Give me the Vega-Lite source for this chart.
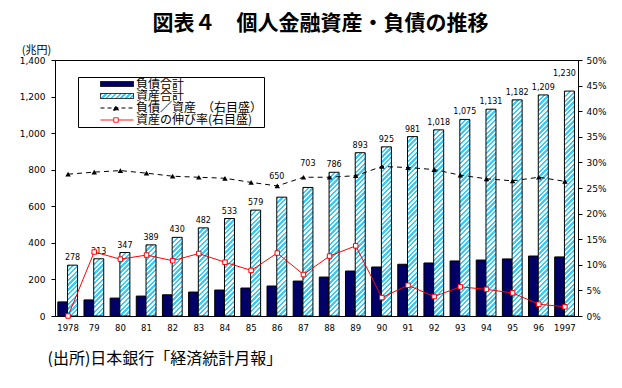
{
  "$schema": "https://vega.github.io/schema/vega-lite/v6.json",
  "width": 523,
  "height": 256,
  "autosize": {"type": "none"},
  "padding": {"left": 55, "top": 60, "right": 44, "bottom": 72},
  "background": "white",
  "config": {"view": {"stroke": "black", "strokeWidth": 1}},
  "title": {"text": "図表４　個人金融資産・負債の推移", "font": "Noto Sans CJK JP", "fontSize": 21, "fontWeight": "bold", "color": "black", "frame": "group", "anchor": "middle", "dx": 4, "dy": 25, "offset": 14, "baseline": "bottom"},
  "params": [
    {"name": "stripeStops", "value": [
      {"offset":0,"color":"#3cf"},
      {"offset":0.01,"color":"#3cf"},{"offset":0.01,"color":"#fff"},
      {"offset":0.02,"color":"#fff"},{"offset":0.02,"color":"#3cf"},
      {"offset":0.03,"color":"#3cf"},{"offset":0.03,"color":"#fff"},
      {"offset":0.04,"color":"#fff"},{"offset":0.04,"color":"#3cf"},
      {"offset":0.05,"color":"#3cf"},{"offset":0.05,"color":"#fff"},
      {"offset":0.06,"color":"#fff"},{"offset":0.06,"color":"#3cf"},
      {"offset":0.07,"color":"#3cf"},{"offset":0.07,"color":"#fff"},
      {"offset":0.08,"color":"#fff"},{"offset":0.08,"color":"#3cf"},
      {"offset":0.09,"color":"#3cf"},{"offset":0.09,"color":"#fff"},
      {"offset":0.10,"color":"#fff"},{"offset":0.10,"color":"#3cf"},
      {"offset":0.11,"color":"#3cf"},{"offset":0.11,"color":"#fff"},
      {"offset":0.12,"color":"#fff"},{"offset":0.12,"color":"#3cf"},
      {"offset":0.13,"color":"#3cf"},{"offset":0.13,"color":"#fff"},
      {"offset":0.14,"color":"#fff"},{"offset":0.14,"color":"#3cf"},
      {"offset":0.15,"color":"#3cf"},{"offset":0.15,"color":"#fff"},
      {"offset":0.16,"color":"#fff"},{"offset":0.16,"color":"#3cf"},
      {"offset":0.17,"color":"#3cf"},{"offset":0.17,"color":"#fff"},
      {"offset":0.18,"color":"#fff"},{"offset":0.18,"color":"#3cf"},
      {"offset":0.19,"color":"#3cf"},{"offset":0.19,"color":"#fff"},
      {"offset":0.20,"color":"#fff"},{"offset":0.20,"color":"#3cf"},
      {"offset":0.21,"color":"#3cf"},{"offset":0.21,"color":"#fff"},
      {"offset":0.22,"color":"#fff"},{"offset":0.22,"color":"#3cf"},
      {"offset":0.23,"color":"#3cf"},{"offset":0.23,"color":"#fff"},
      {"offset":0.24,"color":"#fff"},{"offset":0.24,"color":"#3cf"},
      {"offset":0.25,"color":"#3cf"},{"offset":0.25,"color":"#fff"},
      {"offset":0.26,"color":"#fff"},{"offset":0.26,"color":"#3cf"},
      {"offset":0.27,"color":"#3cf"},{"offset":0.27,"color":"#fff"},
      {"offset":0.28,"color":"#fff"},{"offset":0.28,"color":"#3cf"},
      {"offset":0.29,"color":"#3cf"},{"offset":0.29,"color":"#fff"},
      {"offset":0.30,"color":"#fff"},{"offset":0.30,"color":"#3cf"},
      {"offset":0.31,"color":"#3cf"},{"offset":0.31,"color":"#fff"},
      {"offset":0.32,"color":"#fff"},{"offset":0.32,"color":"#3cf"},
      {"offset":0.33,"color":"#3cf"},{"offset":0.33,"color":"#fff"},
      {"offset":0.34,"color":"#fff"},{"offset":0.34,"color":"#3cf"},
      {"offset":0.35,"color":"#3cf"},{"offset":0.35,"color":"#fff"},
      {"offset":0.36,"color":"#fff"},{"offset":0.36,"color":"#3cf"},
      {"offset":0.37,"color":"#3cf"},{"offset":0.37,"color":"#fff"},
      {"offset":0.38,"color":"#fff"},{"offset":0.38,"color":"#3cf"},
      {"offset":0.39,"color":"#3cf"},{"offset":0.39,"color":"#fff"},
      {"offset":0.40,"color":"#fff"},{"offset":0.40,"color":"#3cf"},
      {"offset":0.41,"color":"#3cf"},{"offset":0.41,"color":"#fff"},
      {"offset":0.42,"color":"#fff"},{"offset":0.42,"color":"#3cf"},
      {"offset":0.43,"color":"#3cf"},{"offset":0.43,"color":"#fff"},
      {"offset":0.44,"color":"#fff"},{"offset":0.44,"color":"#3cf"},
      {"offset":0.45,"color":"#3cf"},{"offset":0.45,"color":"#fff"},
      {"offset":0.46,"color":"#fff"},{"offset":0.46,"color":"#3cf"},
      {"offset":0.47,"color":"#3cf"},{"offset":0.47,"color":"#fff"},
      {"offset":0.48,"color":"#fff"},{"offset":0.48,"color":"#3cf"},
      {"offset":0.49,"color":"#3cf"},{"offset":0.49,"color":"#fff"},
      {"offset":0.50,"color":"#fff"},{"offset":0.50,"color":"#3cf"},
      {"offset":0.51,"color":"#3cf"},{"offset":0.51,"color":"#fff"},
      {"offset":0.52,"color":"#fff"},{"offset":0.52,"color":"#3cf"},
      {"offset":0.53,"color":"#3cf"},{"offset":0.53,"color":"#fff"},
      {"offset":0.54,"color":"#fff"},{"offset":0.54,"color":"#3cf"},
      {"offset":0.55,"color":"#3cf"},{"offset":0.55,"color":"#fff"},
      {"offset":0.56,"color":"#fff"},{"offset":0.56,"color":"#3cf"},
      {"offset":0.57,"color":"#3cf"},{"offset":0.57,"color":"#fff"},
      {"offset":0.58,"color":"#fff"},{"offset":0.58,"color":"#3cf"},
      {"offset":0.59,"color":"#3cf"},{"offset":0.59,"color":"#fff"},
      {"offset":0.60,"color":"#fff"},{"offset":0.60,"color":"#3cf"},
      {"offset":0.61,"color":"#3cf"},{"offset":0.61,"color":"#fff"},
      {"offset":0.62,"color":"#fff"},{"offset":0.62,"color":"#3cf"},
      {"offset":0.63,"color":"#3cf"},{"offset":0.63,"color":"#fff"},
      {"offset":0.64,"color":"#fff"},{"offset":0.64,"color":"#3cf"},
      {"offset":0.65,"color":"#3cf"},{"offset":0.65,"color":"#fff"},
      {"offset":0.66,"color":"#fff"},{"offset":0.66,"color":"#3cf"},
      {"offset":0.67,"color":"#3cf"},{"offset":0.67,"color":"#fff"},
      {"offset":0.68,"color":"#fff"},{"offset":0.68,"color":"#3cf"},
      {"offset":0.69,"color":"#3cf"},{"offset":0.69,"color":"#fff"},
      {"offset":0.70,"color":"#fff"},{"offset":0.70,"color":"#3cf"},
      {"offset":0.71,"color":"#3cf"},{"offset":0.71,"color":"#fff"},
      {"offset":0.72,"color":"#fff"},{"offset":0.72,"color":"#3cf"},
      {"offset":0.73,"color":"#3cf"},{"offset":0.73,"color":"#fff"},
      {"offset":0.74,"color":"#fff"},{"offset":0.74,"color":"#3cf"},
      {"offset":0.75,"color":"#3cf"},{"offset":0.75,"color":"#fff"},
      {"offset":0.76,"color":"#fff"},{"offset":0.76,"color":"#3cf"},
      {"offset":0.77,"color":"#3cf"},{"offset":0.77,"color":"#fff"},
      {"offset":0.78,"color":"#fff"},{"offset":0.78,"color":"#3cf"},
      {"offset":0.79,"color":"#3cf"},{"offset":0.79,"color":"#fff"},
      {"offset":0.80,"color":"#fff"},{"offset":0.80,"color":"#3cf"},
      {"offset":0.81,"color":"#3cf"},{"offset":0.81,"color":"#fff"},
      {"offset":0.82,"color":"#fff"},{"offset":0.82,"color":"#3cf"},
      {"offset":0.83,"color":"#3cf"},{"offset":0.83,"color":"#fff"},
      {"offset":0.84,"color":"#fff"},{"offset":0.84,"color":"#3cf"},
      {"offset":0.85,"color":"#3cf"},{"offset":0.85,"color":"#fff"},
      {"offset":0.86,"color":"#fff"},{"offset":0.86,"color":"#3cf"},
      {"offset":0.87,"color":"#3cf"},{"offset":0.87,"color":"#fff"},
      {"offset":0.88,"color":"#fff"},{"offset":0.88,"color":"#3cf"},
      {"offset":0.89,"color":"#3cf"},{"offset":0.89,"color":"#fff"},
      {"offset":0.90,"color":"#fff"},{"offset":0.90,"color":"#3cf"},
      {"offset":0.91,"color":"#3cf"},{"offset":0.91,"color":"#fff"},
      {"offset":0.92,"color":"#fff"},{"offset":0.92,"color":"#3cf"},
      {"offset":0.93,"color":"#3cf"},{"offset":0.93,"color":"#fff"},
      {"offset":0.94,"color":"#fff"},{"offset":0.94,"color":"#3cf"},
      {"offset":0.95,"color":"#3cf"},{"offset":0.95,"color":"#fff"},
      {"offset":0.96,"color":"#fff"},{"offset":0.96,"color":"#3cf"},
      {"offset":0.97,"color":"#3cf"},{"offset":0.97,"color":"#fff"},
      {"offset":0.98,"color":"#fff"},{"offset":0.98,"color":"#3cf"},
      {"offset":0.99,"color":"#3cf"},{"offset":0.99,"color":"#fff"},
      {"offset":1,"color":"#fff"}
    ]}
  ],
  "data": {"values": [
    {"year": 1978, "liab": 77, "asset": 278, "ratio": 27.7, "growth": 0},
    {"year": 1979, "liab": 88, "asset": 313, "ratio": 28.1, "growth": 12.5},
    {"year": 1980, "liab": 98, "asset": 347, "ratio": 28.4, "growth": 11.1},
    {"year": 1981, "liab": 109, "asset": 389, "ratio": 27.9, "growth": 11.9},
    {"year": 1982, "liab": 116, "asset": 430, "ratio": 27.3, "growth": 10.8},
    {"year": 1983, "liab": 131, "asset": 482, "ratio": 27.1, "growth": 12.2},
    {"year": 1984, "liab": 142, "asset": 533, "ratio": 26.9, "growth": 10.5},
    {"year": 1985, "liab": 153, "asset": 579, "ratio": 26.1, "growth": 8.9},
    {"year": 1986, "liab": 164, "asset": 650, "ratio": 25.4, "growth": 12.3},
    {"year": 1987, "liab": 191, "asset": 703, "ratio": 27.1, "growth": 8.1},
    {"year": 1988, "liab": 213, "asset": 786, "ratio": 27.1, "growth": 11.7},
    {"year": 1989, "liab": 246, "asset": 893, "ratio": 27.4, "growth": 13.7},
    {"year": 1990, "liab": 268, "asset": 925, "ratio": 29.2, "growth": 3.6},
    {"year": 1991, "liab": 283, "asset": 981, "ratio": 29.0, "growth": 6.0},
    {"year": 1992, "liab": 290, "asset": 1018, "ratio": 28.6, "growth": 3.8},
    {"year": 1993, "liab": 301, "asset": 1075, "ratio": 27.5, "growth": 5.7},
    {"year": 1994, "liab": 306, "asset": 1131, "ratio": 26.8, "growth": 5.2},
    {"year": 1995, "liab": 312, "asset": 1182, "ratio": 26.4, "growth": 4.5},
    {"year": 1996, "liab": 328, "asset": 1209, "ratio": 27.1, "growth": 2.3},
    {"year": 1997, "liab": 323, "asset": 1230, "ratio": 26.3, "growth": 1.8}
  ]},
  "encoding": {
    "x": {
      "field": "year", "type": "ordinal",
      "scale": {"paddingInner": 0, "paddingOuter": 0},
      "axis": {
        "labelAngle": 0,
        "labelExpr": "datum.value == 1978 || datum.value == 1997 ? datum.label : substring(datum.label, 2)",
        "ticks": false, "labelPadding": 7,
        "labelFont": "DejaVu Sans", "labelFontSize": 8.5, "labelColor": "black",
        "domainColor": "black",
        "title": "(出所)日本銀行「経済統計月報」",
        "titleFont": "Noto Sans CJK JP", "titleFontSize": 16, "titleFontWeight": "normal", "titleColor": "black",
        "titleAlign": "left", "titleBaseline": "middle", "titleX": -8, "titleY": 42, "titleAnchor": "start"
      }
    }
  },
  "layer": [
    {
      "layer": [
        {
          "mark": {"type": "bar", "width": 9.5, "xOffset": -5.5, "color": "#000066", "fill": "#000066", "stroke": "black", "strokeWidth": 1},
          "encoding": {
            "y": {"field": "liab", "type": "quantitative", "scale": {"domain": [0, 1400], "nice": false},
              "axis": {"orient": "left", "values": [0, 200, 400, 600, 800, 1000, 1200, 1400], "format": ",.0f", "grid": false,
                "tickSize": 4, "labelPadding": 6, "labelFont": "DejaVu Sans", "labelFontSize": 9, "labelColor": "black",
                "tickColor": "black", "domainColor": "black",
                "title": "(兆円)", "titleAngle": 0, "titleX": -19, "titleY": -10, "titleAlign": "center", "titleBaseline": "middle",
                "titleFont": "Noto Sans CJK JP", "titleFontSize": 11, "titleFontWeight": "normal", "titleColor": "black"}}
          }
        },
        {
          "mark": {"type": "bar", "width": 10, "xOffset": 4.5, "stroke": "black", "strokeWidth": 1,
            "fill": {"expr": "{gradient: 'linear', x1: 0, y1: 0, x2: 2400 / (100 + pow(datum.asset * 256 / 1400, 2)), y2: 240 * (datum.asset * 256 / 1400) / (100 + pow(datum.asset * 256 / 1400, 2)), stops: stripeStops}"}},
          "encoding": {
            "y": {"field": "asset", "type": "quantitative", "scale": {"domain": [0, 1400], "nice": false},
              "axis": {"orient": "left", "values": [0, 200, 400, 600, 800, 1000, 1200, 1400], "format": ",.0f", "grid": false,
                "tickSize": 4, "labelPadding": 6, "labelFont": "DejaVu Sans", "labelFontSize": 9, "labelColor": "black",
                "tickColor": "black", "domainColor": "black",
                "title": "(兆円)", "titleAngle": 0, "titleX": -19, "titleY": -10, "titleAlign": "center", "titleBaseline": "middle",
                "titleFont": "Noto Sans CJK JP", "titleFontSize": 11, "titleFontWeight": "normal", "titleColor": "black"}}
          }
        },
        {
          "mark": {"type": "text", "xOffset": 4.5, "baseline": "middle", "align": "center", "font": "DejaVu Sans", "fontSize": 8, "color": "black",
            "dy": {"expr": "datum.year == 1986 ? -20 : datum.year == 1987 ? -23 : datum.year == 1997 ? -17 : -7"},
            "dx": {"expr": "datum.year == 1986 || datum.year == 1997 ? -5 : 0"}},
          "encoding": {
            "y": {"field": "asset", "type": "quantitative", "scale": {"domain": [0, 1400], "nice": false},
              "axis": {"orient": "left", "values": [0, 200, 400, 600, 800, 1000, 1200, 1400], "format": ",.0f", "grid": false,
                "tickSize": 4, "labelPadding": 6, "labelFont": "DejaVu Sans", "labelFontSize": 9, "labelColor": "black",
                "tickColor": "black", "domainColor": "black",
                "title": "(兆円)", "titleAngle": 0, "titleX": -19, "titleY": -10, "titleAlign": "center", "titleBaseline": "middle",
                "titleFont": "Noto Sans CJK JP", "titleFontSize": 11, "titleFontWeight": "normal", "titleColor": "black"}},
            "text": {"field": "asset", "type": "quantitative", "format": ","}
          }
        },
        {
          "transform": [{"fold": ["liab", "asset", "ratio", "growth"], "as": ["series", "value"]}],
          "mark": {"type": "point", "opacity": 0, "filled": true, "size": 1,
            "fill": {"expr": "(datum.series || datum.value) == 'liab' ? '#000066' : (datum.series || datum.value) == 'asset' ? {gradient: 'linear', x1: 0, y1: 0, x2: 7.1, y2: 1.08, stops: stripeStops} : (datum.series || datum.value) == 'ratio' ? '#000000' : '#ffffff'"}},
          "encoding": {
            "y": {"field": "value", "type": "quantitative", "scale": {"domain": [0, 1400], "nice": false},
              "axis": {"orient": "left", "values": [0, 200, 400, 600, 800, 1000, 1200, 1400], "format": ",.0f", "grid": false,
                "tickSize": 4, "labelPadding": 6, "labelFont": "DejaVu Sans", "labelFontSize": 9, "labelColor": "black",
                "tickColor": "black", "domainColor": "black",
                "title": "(兆円)", "titleAngle": 0, "titleX": -19, "titleY": -10, "titleAlign": "center", "titleBaseline": "middle",
                "titleFont": "Noto Sans CJK JP", "titleFontSize": 11, "titleFontWeight": "normal", "titleColor": "black"}},
            "shape": {"field": "series", "type": "nominal",
              "scale": {"domain": ["liab", "asset", "ratio", "growth"],
                "range": ["M3.1,-0.5H9.7V0.5H3.1Z", "M3.1,-0.5H9.7V0.5H3.1Z", "M3.1,0H9.7M5.7,0.45L6.2,-0.5L6.7,0.45Z", "M3.1,0H5.75M6.65,0H9.7M5.75,-0.45H6.65V0.45H5.75Z"]},
              "legend": {
                "orient": "none", "legendX": 23, "legendY": 17, "title": null, "padding": 1,
                "strokeColor": "black", "fillColor": "white", "symbolSize": 100, "rowPadding": -3.6,
                "symbolOpacity": 1, "symbolStrokeWidth": 1,
                "labelFont": "Noto Sans CJK JP", "labelFontSize": 12, "labelColor": "black", "labelOffset": 45,
                "labelExpr": "datum.value == 'liab' ? '負債合計' : datum.value == 'asset' ? '資産合計' : datum.value == 'ratio' ? '負債／資産　（右目盛）　　　　　　　' : '資産の伸び率(右目盛)'"
              }},
            "stroke": {"field": "series", "type": "nominal",
              "scale": {"domain": ["liab", "asset", "ratio", "growth"], "range": ["#000000", "#000000", "#000000", "#ff0000"]}},
            "strokeDash": {"field": "series", "type": "nominal",
              "scale": {"domain": ["liab", "asset", "ratio", "growth"], "range": [[1, 0], [1, 0], [4, 3], [1, 0]]}}
          }
        }
      ]
    },
    {
      "layer": [
        {
          "mark": {"type": "line", "color": "black", "strokeWidth": 1, "strokeDash": [5, 4]},
          "encoding": {
            "y": {"field": "ratio", "type": "quantitative", "scale": {"domain": [0, 50], "nice": false},
              "axis": {"orient": "right", "values": [0, 5, 10, 15, 20, 25, 30, 35, 40, 45, 50], "labelExpr": "datum.value + '%'", "title": null, "grid": false,
                "tickSize": 4, "labelPadding": 4, "labelFont": "DejaVu Sans", "labelFontSize": 9, "labelColor": "black", "tickColor": "black", "domainColor": "black"}}
          }
        },
        {
          "mark": {"type": "point", "shape": "triangle-up", "filled": true, "color": "black", "size": 30, "opacity": 1},
          "encoding": {
            "y": {"field": "ratio", "type": "quantitative", "scale": {"domain": [0, 50], "nice": false},
              "axis": {"orient": "right", "values": [0, 5, 10, 15, 20, 25, 30, 35, 40, 45, 50], "labelExpr": "datum.value + '%'", "title": null, "grid": false,
                "tickSize": 4, "labelPadding": 4, "labelFont": "DejaVu Sans", "labelFontSize": 9, "labelColor": "black", "tickColor": "black", "domainColor": "black"}}
          }
        },
        {
          "mark": {"type": "line", "color": "#ff0000", "strokeWidth": 1},
          "encoding": {
            "y": {"field": "growth", "type": "quantitative", "scale": {"domain": [0, 50], "nice": false},
              "axis": {"orient": "right", "values": [0, 5, 10, 15, 20, 25, 30, 35, 40, 45, 50], "labelExpr": "datum.value + '%'", "title": null, "grid": false,
                "tickSize": 4, "labelPadding": 4, "labelFont": "DejaVu Sans", "labelFontSize": 9, "labelColor": "black", "tickColor": "black", "domainColor": "black"}}
          }
        },
        {
          "mark": {"type": "point", "shape": "square", "filled": false, "fill": "white", "stroke": "#ff0000", "strokeWidth": 1, "size": 20, "opacity": 1, "fillOpacity": 1},
          "encoding": {
            "y": {"field": "growth", "type": "quantitative", "scale": {"domain": [0, 50], "nice": false},
              "axis": {"orient": "right", "values": [0, 5, 10, 15, 20, 25, 30, 35, 40, 45, 50], "labelExpr": "datum.value + '%'", "title": null, "grid": false,
                "tickSize": 4, "labelPadding": 4, "labelFont": "DejaVu Sans", "labelFontSize": 9, "labelColor": "black", "tickColor": "black", "domainColor": "black"}}
          }
        }
      ]
    }
  ],
  "resolve": {"scale": {"y": "independent"}}
}
